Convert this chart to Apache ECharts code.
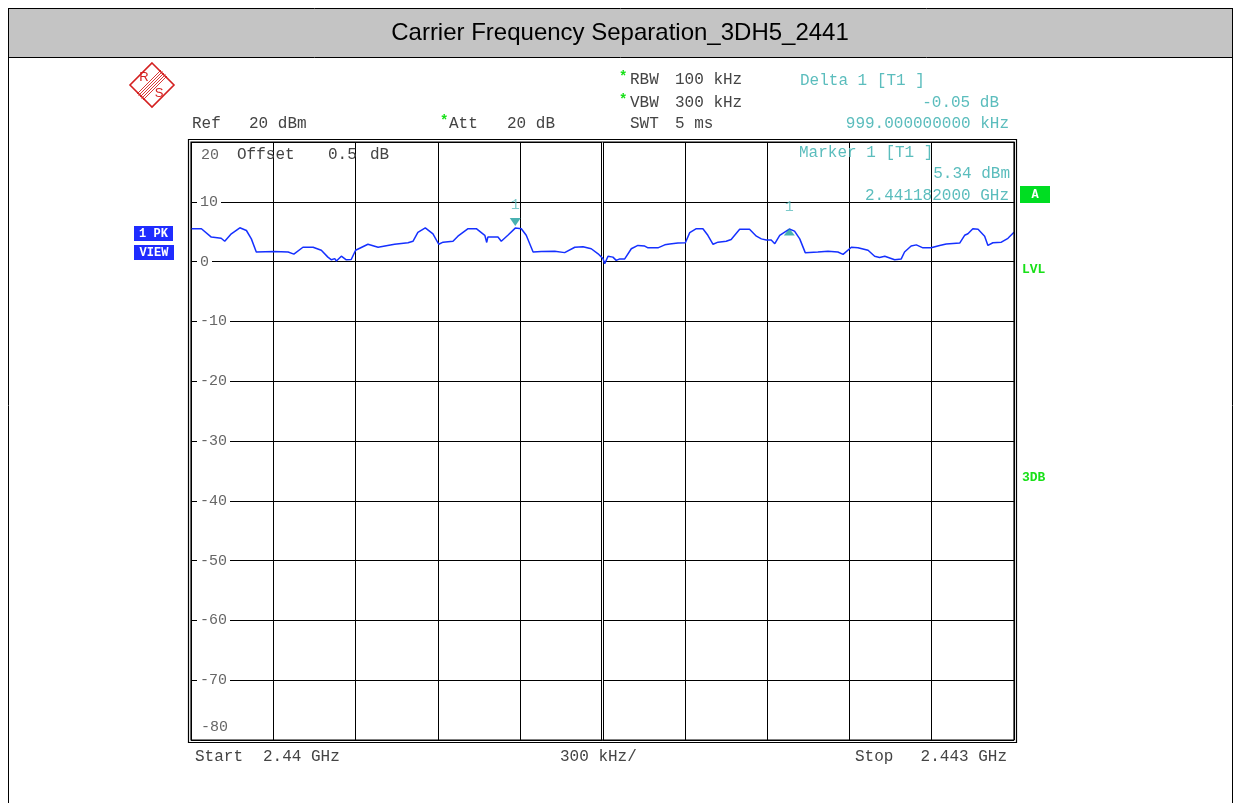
<!DOCTYPE html>
<html>
<head>
<meta charset="utf-8">
<script src="https://cdn.jsdelivr.net/npm/echarts@6/dist/echarts.min.js"></script>
<style>
html,body{margin:0;padding:0;background:#fff;}
#c{width:1235px;height:803px;}
</style>
</head>
<body>
<div id="c"></div>
<script>
// ---- data ----
var titleText = 'Carrier Frequency Separation_3DH5_2441';
var startGHz = 2.44, stopGHz = 2.443;
var spanKHz = 3000, divKHz = 300;
var refDbm = 20, bottomDbm = -80, divDb = 10;
// trace: frequency offset from start (kHz)
var traceKHz = [0,38,74,110,123,147,178,202,220,238,303,354,375,408,445,475,499,512,524,530,548,566,584,600,645,682,742,791,809,827,854,882,903,919,955,973,1010,1040,1071,1078,1082,1119,1131,1155,1182,1204,1222,1247,1277,1326,1362,1399,1429,1459,1484,1502,1508,1520,1538,1550,1563,1581,1605,1629,1654,1666,1702,1727,1745,1775,1802,1818,1842,1866,1884,1903,1921,1951,1969,2000,2036,2061,2079,2097,2115,2128,2146,2181,2200,2219,2239,2285,2322,2358,2377,2407,2431,2468,2492,2510,2529,2565,2589,2601,2625,2644,2668,2698,2729,2753,2802,2820,2832,2850,2869,2893,2905,2923,2954,2960,2978,3000];
var traceDbm = [5.5,5.5,4.1,3.9,3.4,4.65,5.65,5.2,3.8,1.6,1.7,1.6,1.25,2.4,2.4,1.9,0.75,0.3,0.5,0.1,0.9,0.3,0.35,1.9,2.9,2.4,2.9,3.15,3.4,4.9,5.65,4.65,2.9,3.25,3.4,4.25,5.5,5.5,4.4,3.2,4.1,4.1,3.4,4.4,5.6,5.5,4.4,1.6,1.7,1.75,1.5,2.4,2.5,2.15,1.3,0.47,-0.35,0.9,0.75,0.2,0.45,0.45,2.15,2.7,2.6,2.3,2.3,2.8,2.95,3.1,3.15,4.85,5.5,5.5,4.4,2.9,3.25,3.4,3.7,5.4,5.4,4.25,3.8,3.6,3.6,3.0,4.4,5.45,5.1,3.8,1.5,1.6,1.75,1.6,1.2,2.4,2.3,1.9,0.9,0.7,0.9,0.3,0.45,1.6,2.6,2.8,2.3,2.3,2.7,2.95,3.1,4.4,4.65,5.5,5.4,4.25,2.7,3.15,3.25,3.0,3.9,4.9];
var markerKHz = [1182, 2181];
var markerDbm = [5.6, 5.45];
var markerNames = ['1', '1'];
var headerLeft = [['Ref', '20 dBm'], ['Att', '20 dB']];
var headerMid = [['RBW', '100 kHz'], ['VBW', '300 kHz'], ['SWT', '5 ms']];
var deltaLines = ['Delta 1 [T1 ]', '-0.05 dB', '999.000000000 kHz'];
var markerLines = ['Marker 1 [T1 ]', '5.34 dBm', '2.441182000 GHz'];
var offsetText = ['Offset', '0.5', 'dB'];
var footer = [['Start', '2.44 GHz'], '300 kHz/', ['Stop', '2.443 GHz']];

var mono = '"Courier New","Liberation Mono",monospace';
var teal = '#5bbdbd';
var green = '#18e018';
var grayTxt = '#444';

var traceData = traceKHz.map(function (f, i) { return [f, traceDbm[i]]; });

var chart = echarts.init(document.getElementById('c'), null, {renderer: 'canvas'});

function txt(x, y, s, opt) {
  opt = opt || {};
  return {
    type: 'text', x: x, y: y, z: 100,
    style: {
      text: s, fill: opt.fill || grayTxt,
      font: (opt.weight || 'normal') + ' ' + (opt.size || 16) + 'px ' + (opt.family || mono),
      textAlign: opt.align || 'left', textVerticalAlign: 'middle'
    }
  };
}

var g = [];
// page frame & title bar
g.push({type: 'rect', shape: {x: 8.5, y: 8.5, width: 1224, height: 49}, style: {fill: '#c4c4c4', stroke: '#000', lineWidth: 1}, z: 1});
g.push({type: 'line', shape: {x1: 8.5, y1: 8, x2: 8.5, y2: 803}, style: {stroke: '#000', lineWidth: 1}, z: 1});
g.push({type: 'line', shape: {x1: 1232.5, y1: 8, x2: 1232.5, y2: 803}, style: {stroke: '#000', lineWidth: 1}, z: 1});
g.push(txt(620, 33, titleText, {fill: '#000', size: 24, family: '"Liberation Sans",Arial,sans-serif', align: 'center'}));

// R&S logo
g.push({type: 'polygon', shape: {points: [[152, 63], [174, 85], [152, 107], [130, 85]]}, style: {fill: 'none', stroke: '#d42020', lineWidth: 1.6}, z: 100});
[-3, -1.5, 0, 1.5, 3].forEach(function (d) {
  g.push({type: 'line', shape: {x1: 140 + d, y1: 97 + d, x2: 164 + d, y2: 73 + d}, style: {stroke: '#d42020', lineWidth: 0.9}, z: 100});
});
g.push(txt(144, 77, 'R', {fill: '#d42020', size: 13, family: '"Liberation Sans",sans-serif', align: 'center'}));
g.push(txt(159, 93, 'S', {fill: '#d42020', size: 13, family: '"Liberation Sans",sans-serif', align: 'center'}));

// header
g.push(txt(192, 124, headerLeft[0][0]));
g.push(txt(249, 124, headerLeft[0][1]));
g.push(txt(440, 121, '*', {fill: green, size: 14, weight: 'bold'}));
g.push(txt(449, 124, headerLeft[1][0]));
g.push(txt(507, 124, headerLeft[1][1]));
[80, 103, 124].forEach(function (y, i) {
  if (i < 2) g.push(txt(619, y - 3, '*', {fill: green, size: 14, weight: 'bold'}));
  g.push(txt(630, y, headerMid[i][0]));
  g.push(txt(675, y, headerMid[i][1]));
});
g.push(txt(800, 81, deltaLines[0], {fill: teal}));
g.push(txt(999, 103, deltaLines[1], {fill: teal, align: 'right'}));
g.push(txt(1009, 124, deltaLines[2], {fill: teal, align: 'right'}));
g.push(txt(799, 153, markerLines[0], {fill: teal}));
g.push(txt(1010, 174, markerLines[1], {fill: teal, align: 'right'}));
g.push(txt(1009, 196, markerLines[2], {fill: teal, align: 'right'}));
g.push(txt(237, 155, offsetText[0]));
g.push(txt(328, 155, offsetText[1]));
g.push(txt(370, 155, offsetText[2]));

// side badges
g.push({type: 'rect', shape: {x: 1020, y: 186, width: 30, height: 17}, style: {fill: '#00dd22'}, z: 100});
g.push(txt(1035, 195, 'A', {fill: '#fff', size: 12, weight: 'bold', align: 'center'}));
g.push(txt(1022, 270, 'LVL', {fill: green, size: 13, weight: 'bold'}));
g.push(txt(1022, 478, '3DB', {fill: green, size: 13, weight: 'bold'}));
g.push({type: 'rect', shape: {x: 134, y: 226, width: 39, height: 15}, style: {fill: '#1f2cff'}, z: 100});
g.push(txt(153.5, 234, '1 PK', {fill: '#fff', size: 12, weight: 'bold', align: 'center'}));
g.push({type: 'rect', shape: {x: 134, y: 245, width: 40, height: 15}, style: {fill: '#1f2cff'}, z: 100});
g.push(txt(154, 253, 'VIEW', {fill: '#fff', size: 12, weight: 'bold', align: 'center'}));

// footer
g.push(txt(195, 757, footer[0][0]));
g.push(txt(263, 757, footer[0][1]));
g.push(txt(560, 757, footer[1]));
g.push(txt(855, 757, footer[2][0]));
g.push(txt(1007, 757, footer[2][1], {align: 'right'}));

// plot frame (double)
g.push({type: 'rect', shape: {x: 188.5, y: 139.5, width: 828, height: 603}, style: {fill: 'none', stroke: '#000', lineWidth: 1.2}, z: 50});
g.push({type: 'rect', shape: {x: 191, y: 142, width: 823, height: 598}, style: {fill: 'none', stroke: '#000', lineWidth: 1.2}, z: 50});

var option = {
  animation: false,
  backgroundColor: '#fff',
  grid: {left: 191, top: 142, width: 823, height: 598, show: false},
  xAxis: {
    type: 'value', min: 0, max: spanKHz, interval: divKHz,
    axisLine: {show: false}, axisTick: {show: false}, axisLabel: {show: false},
    splitLine: {show: true, lineStyle: {color: '#000', width: 1}}
  },
  yAxis: {
    type: 'value', min: bottomDbm, max: refDbm, interval: divDb,
    axisLine: {show: false}, axisTick: {show: false},
    splitLine: {show: true, lineStyle: {color: '#000', width: 1}},
    axisLabel: {
      inside: true, margin: 6, color: '#666', fontFamily: mono, fontSize: 15,
      formatter: function (v) {
        if (v === refDbm) return '{t|' + v + '}';
        if (v === bottomDbm) return '{b|' + v + '}';
        return '{n|' + v + '}';
      },
      rich: {
        t: {color: '#666', fontFamily: mono, fontSize: 15, padding: [26, 3, 0, 4]},
        b: {color: '#666', fontFamily: mono, fontSize: 15, padding: [0, 3, 26, 4]},
        n: {color: '#666', fontFamily: mono, fontSize: 15, backgroundColor: '#fff', padding: [0, 3, 0, 3]}
      }
    }
  },
  graphic: g,
  series: [
    {
      type: 'line', data: traceData, showSymbol: false, symbol: 'none',
      lineStyle: {color: '#1530ff', width: 1.5}, z: 5,
      markLine: {
        silent: true, symbol: 'none', label: {show: false},
        data: [
          {xAxis: spanKHz / 2, lineStyle: {color: '#000', width: 3, type: 'solid'}},
          {xAxis: spanKHz / 2, lineStyle: {color: '#fff', width: 1, type: 'solid'}}
        ]
      }
    },
    {
      type: 'scatter', data: [[markerKHz[0], markerDbm[0]]],
      symbol: 'triangle', symbolRotate: 180, symbolSize: [11, 8], symbolOffset: [0, -6],
      itemStyle: {color: '#1a9e9e'}, z: 10,
      label: {show: true, formatter: markerNames[0], position: 'top', distance: 6, color: teal, fontFamily: mono, fontSize: 15}
    },
    {
      type: 'scatter', data: [[markerKHz[1], markerDbm[1]]],
      symbol: 'triangle', symbolSize: [11, 7], symbolOffset: [0, 3],
      itemStyle: {color: '#1a9e9e'}, z: 10,
      label: {show: true, formatter: markerNames[1], position: 'top', distance: 14, color: teal, fontFamily: mono, fontSize: 15}
    }
  ]
};
chart.setOption(option);
</script>
</body>
</html>
